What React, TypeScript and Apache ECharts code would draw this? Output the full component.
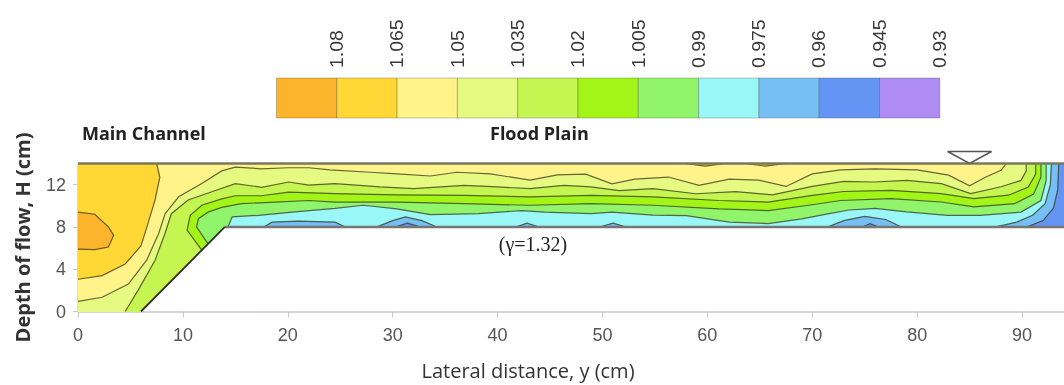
import React, { useEffect, useRef } from 'react';
import * as echarts from 'echarts';

// ---- legend (contour levels and band colours, highest first) ----
const levels = ['1.08', '1.065', '1.05', '1.035', '1.02', '1.005', '0.99', '0.975', '0.96', '0.945', '0.93'];
const bandColors = ['#FBB42B', '#FFD835', '#FFF38A', '#E6FA82', '#C4F550', '#A2F516', '#90F56A', '#9AF7F7', '#76BFF5', '#6495F5', '#AE8CF2'];

// ---- axes ----
const xTicks = [0, 10, 20, 30, 40, 50, 60, 70, 80, 90];
const yTicks = [0, 4, 8, 12];

// ---- channel geometry (cm) ----
const channel = [[0, 0], [6, 0], [14, 8], [94, 8], [94, 14], [0, 14]];
const waterSurface = [[0, 14], [94, 14]];
const floodplainBed = [[14, 8], [94, 8]];
const sideSlope = [[6, 0], [14, 8]];
const waterMark = [85, 14];

// ---- contour lines (lateral distance y, depth H) ----
const c1080 = [[0, 9.4], [1.6, 9.2], [2.9, 8.0], [3.4, 7.2], [2.9, 6.1], [1.6, 5.85], [0, 5.9]];
const c1065 = [[7.5, 14], [7.8, 12.7], [7.35, 10.55], [6.6, 8.1], [6.0, 6.2], [4.5, 4.5], [2.3, 3.4], [0, 3.05]];
const c1065a = [[57.9, 14], [59.8, 13.75], [61.7, 14]];
const c1065b = [[63.6, 14], [65.5, 13.75], [67.5, 14]];
const c1050 = [[0, 0.95], [2.3, 1.35], [4.8, 2.6], [6.55, 4.85], [7.7, 7.4], [8.3, 9.25], [9.6, 10.85], [11.8, 12.1], [13.7, 13.3], [15, 13.65], [17.5, 13.5], [20, 13.6], [22, 13.6], [24, 13.4], [27.9, 13.17], [30.4, 13.02], [33.6, 12.82], [36.1, 13.17], [39.3, 13.02], [43.1, 12.42], [45.7, 12.92], [48.4, 13.0], [50.9, 12.08], [53.1, 12.52], [56.3, 12.72], [59.2, 11.93], [62.1, 12.52], [64.9, 12.42], [67.5, 11.83], [70, 13.02], [72.7, 13.4], [76, 13.5], [80, 13.4], [83, 12.9], [85, 11.9], [86.5, 12.7], [88, 13.35], [88.5, 14]];
const c1035 = [[4.5, 0], [5.75, 2.05], [7.35, 4.85], [8.3, 7.4], [8.9, 9.25], [10.5, 10.55], [13.1, 11.45], [15, 12.1], [17.5, 11.75], [20.1, 12.25], [22, 11.95], [24.5, 12.1], [28.8, 11.78], [32, 11.63], [36.8, 11.93], [40, 11.78], [43.1, 11.63], [46.3, 11.93], [48.9, 11.78], [51.6, 11.43], [54.8, 11.63], [58.9, 11.14], [62.7, 11.34], [66.2, 11.04], [70, 11.83], [73, 12.3], [75.9, 12.25], [79, 12.4], [82.3, 12.1], [85.1, 11.15], [88, 11.8], [89.9, 12.4], [90.4, 13.3], [90.4, 14]];
const c1020 = [[11.8, 5.8], [10.4, 7.7], [10.7, 9.1], [11.8, 10.05], [13.7, 10.65], [15, 10.95], [17.5, 10.95], [20.1, 11.3], [24.5, 11.15], [30.4, 11.04], [36.8, 10.99], [43.1, 10.84], [48.9, 10.99], [54.8, 10.84], [61.1, 10.5], [65.8, 10.35], [70, 10.99], [73, 11.35], [77.5, 11.46], [82.3, 11.15], [85.4, 10.68], [88.7, 11.0], [90.6, 11.77], [91.3, 13.0], [91.3, 14]];
const c1005 = [[12.4, 6.4], [11.3, 8.0], [11.5, 8.8], [12.4, 9.4], [13.7, 9.85], [15.6, 10.2], [18.8, 10.35], [22, 10.5], [24.5, 10.35], [30.4, 10.35], [36.8, 10.2], [43.1, 10.05], [48.9, 10.2], [54.8, 10.05], [61.1, 9.7], [65.8, 9.55], [70, 10.1], [72.7, 10.5], [77.5, 10.68], [82.3, 10.36], [85.4, 9.89], [89.3, 10.2], [91.1, 11.1], [91.8, 12.7], [91.8, 14]];
const c0990 = [[14.3, 8], [14.7, 8.95], [17.2, 9.1], [20.4, 9.4], [24.5, 9.75], [27.2, 10.05], [30.4, 9.7], [33.6, 9.16], [38.2, 9.26], [42.3, 9.55], [44.5, 9.4], [48.9, 9.26], [50.9, 9.4], [54.8, 9.11], [58, 9.06], [62.1, 8.46], [65.8, 8.32], [69, 8.76], [71.6, 9.26], [73.5, 9.6], [76, 9.75], [79, 9.42], [82.9, 9.1], [86, 9.1], [89.9, 9.4], [91.8, 10.5], [92.3, 12.4], [92.3, 14]];
const c0975a = [[17.7, 8], [18.5, 8.45], [21, 8.55], [24.5, 8.45], [25.5, 8]];
const c0975b = [[28.5, 8], [30, 8.6], [31.2, 8.95], [32.8, 8.6], [34.2, 8]];
const c0975c = [[41.8, 8], [42.8, 8.35], [43.9, 8]];
const c0975d = [[49.8, 8], [51, 8.35], [52.2, 8]];
const c0975e = [[71.5, 8], [73, 8.6], [75, 9.0], [77, 8.7], [78.5, 8]];
const c0975f = [[87.5, 8], [89.5, 8.45], [91, 9.1], [92.2, 10.2], [92.7, 12], [92.8, 14]];
const c0960a = [[30.3, 8], [31.4, 8.35], [32.6, 8]];
const c0960b = [[74.8, 8], [75.5, 8.3], [76.3, 8]];
const c0960c = [[90.5, 8], [92, 8.6], [93, 9.8], [93.4, 11.5], [93.5, 14]];

// closing edges along the channel boundary
const closeMain = [[94, 14], [94, 8], [14, 8], [6, 0], [0, 0]];
const closeBottom = [[94, 14], [94, 8], [14, 8], [6, 0]];
const closeSlope = [[94, 14], [94, 8], [14, 8]];
const closeBed = [[94, 14], [94, 8]];

const fills = [
  { pts: channel, c: 2 },
  { pts: [...c1065, [0, 14]], c: 1 },
  { pts: c1065a, c: 1 },
  { pts: c1065b, c: 1 },
  { pts: c1080, c: 0 },
  { pts: [...c1050, ...closeMain], c: 3 },
  { pts: [...c1035, ...closeBottom], c: 4 },
  { pts: [...c1020, ...closeSlope], c: 5 },
  { pts: [...c1005, ...closeSlope], c: 6 },
  { pts: [...c0990, ...closeBed], c: 7 },
  { pts: c0975a, c: 8 },
  { pts: c0975b, c: 8 },
  { pts: c0975c, c: 8 },
  { pts: c0975d, c: 8 },
  { pts: c0975e, c: 8 },
  { pts: [...c0975f, ...closeBed], c: 8 },
  { pts: c0960a, c: 9 },
  { pts: c0960b, c: 9 },
  { pts: [...c0960c, ...closeBed], c: 9 },
];

const contourLines = [c1080, c1065, c1065a, c1065b, c1050, c1035, c1020, c1005, c0990,
  c0975a, c0975b, c0975c, c0975d, c0975e, c0975f, c0960a, c0960b, c0960c];

const borders = [
  { pts: waterSurface, color: '#78785f', w: 2.5 },
  { pts: floodplainBed, color: '#767676', w: 2.5 },
  { pts: sideSlope, color: '#2f2f2f', w: 1.8 },
];

function buildLegend() {
  const x0 = 276.5, w = 60.3, y0 = 78, h = 40;
  const els: any[] = [];
  bandColors.forEach((col, i) => {
    els.push({
      type: 'rect',
      shape: { x: x0 + i * w, y: y0, width: w, height: h },
      style: { fill: col, stroke: 'rgba(60,60,40,0.3)', lineWidth: 1 },
    });
  });
  levels.forEach((lab, i) => {
    els.push({
      type: 'text',
      x: x0 + (i + 1) * w,
      y: 68,
      rotation: Math.PI / 2,
      scaleX: 1.08,
      style: {
        text: lab,
        font: '18px "Liberation Sans", Arial, sans-serif',
        fill: '#3a3a3a',
        align: 'left',
        verticalAlign: 'middle',
      },
    });
  });
  return els;
}

export default function App() {
  const ref = useRef<HTMLDivElement>(null);
  useEffect(() => {
    const chart = echarts.init(ref.current!, null, { renderer: 'svg' });
    const labelFont = { fontFamily: '"Liberation Sans", Arial, sans-serif', fontSize: 18, color: '#555' };
    const option: any = {
      animation: false,
      grid: { left: 78, right: 0, top: 163.5, bottom: 73.5 },
      xAxis: {
        type: 'value',
        min: 0,
        max: 94,
        name: 'Lateral distance, y (cm)',
        nameLocation: 'middle',
        nameGap: 49,
        nameTextStyle: { fontFamily: '"Open Sans"', fontSize: 20, color: '#333', padding: [0, 86, 0, 0] },
        axisLine: { show: true, lineStyle: { color: '#c8c8c8', width: 1.5 } },
        axisTick: { show: true, customValues: xTicks, length: 6, lineStyle: { color: '#c8c8c8' } },
        axisLabel: { customValues: xTicks, margin: 14, ...labelFont },
        splitLine: { show: false },
      },
      yAxis: {
        type: 'value',
        min: 0,
        max: 14,
        name: 'Depth of flow, H (cm)',
        nameLocation: 'middle',
        nameGap: 46,
        nameTextStyle: { fontFamily: '"Open Sans"', fontWeight: 'bold', fontSize: 20, color: '#333' },
        axisLine: { show: true, lineStyle: { color: '#c8c8c8', width: 1.5 } },
        axisTick: { show: true, customValues: yTicks, length: 5, lineStyle: { color: '#c8c8c8' } },
        axisLabel: { customValues: yTicks, margin: 12, ...labelFont },
        splitLine: { show: false },
      },
      graphic: [
        ...buildLegend(),
        {
          type: 'text', x: 82, y: 133,
          style: { text: 'Main Channel', font: 'bold 18px "Open Sans", sans-serif', fill: '#222', verticalAlign: 'middle' },
        },
        {
          type: 'text', x: 490, y: 133,
          style: { text: 'Flood Plain', font: 'bold 18px "Open Sans", sans-serif', fill: '#222', verticalAlign: 'middle' },
        },
        {
          type: 'text', x: 533, y: 244,
          style: { text: '(\u03b3=1.32)', font: '20px "Liberation Serif", "DejaVu Serif", serif', fill: '#222', align: 'center', verticalAlign: 'middle' },
        },
      ],
      series: [
        {
          type: 'custom',
          coordinateSystem: 'cartesian2d',
          silent: true,
          data: fills.map((f) => f.pts[0]),
          renderItem: (params: any, api: any) => {
            const f = fills[params.dataIndex];
            return {
              type: 'polygon',
              shape: { points: f.pts.map((p) => api.coord(p)) },
              style: { fill: bandColors[f.c], stroke: bandColors[f.c], lineWidth: 0.5 },
            };
          },
        },
        {
          type: 'custom',
          coordinateSystem: 'cartesian2d',
          silent: true,
          data: contourLines.map((l) => l[0]),
          renderItem: (params: any, api: any) => {
            const l = contourLines[params.dataIndex];
            return {
              type: 'polyline',
              shape: { points: l.map((p) => api.coord(p)) },
              style: { stroke: 'rgba(55,55,25,0.75)', lineWidth: 1.2, fill: null },
            };
          },
        },
        {
          type: 'custom',
          coordinateSystem: 'cartesian2d',
          silent: true,
          data: borders.map((b) => b.pts[0]),
          renderItem: (params: any, api: any) => {
            const b = borders[params.dataIndex];
            return {
              type: 'polyline',
              shape: { points: b.pts.map((p) => api.coord(p)) },
              style: { stroke: b.color, lineWidth: b.w, fill: null },
            };
          },
        },
        {
          type: 'custom',
          coordinateSystem: 'cartesian2d',
          silent: true,
          clip: false,
          data: [waterMark],
          renderItem: (params: any, api: any) => {
            const p = api.coord(waterMark);
            return {
              type: 'polygon',
              shape: { points: [[p[0] - 22, p[1] - 12], [p[0] + 22, p[1] - 12], [p[0], p[1]]] },
              style: { fill: '#fff', stroke: '#555', lineWidth: 1.5 },
            };
          },
        },
      ],
    };
    chart.setOption(option);
    return () => chart.dispose();
  }, []);
  return <div ref={ref} style={{ position: 'fixed', left: 0, top: 0, width: 1064, height: 385 }} />;
}
